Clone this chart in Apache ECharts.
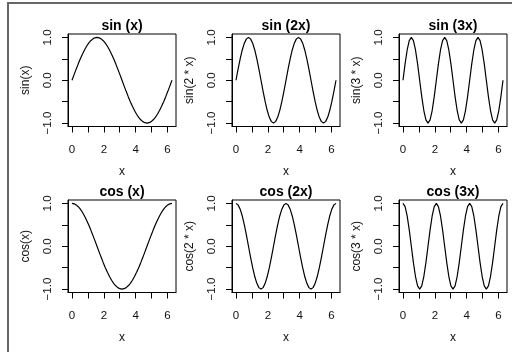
<!DOCTYPE html>
<html lang="en">

<head>
  <meta charset="UTF-8">
  <title>sin / cos</title>
  <style>
    body {
      margin: 0;
      background: #fff;
    }

    #main {
      position: absolute;
      left: 0;
      top: 0;
      width: 512px;
      height: 352px;
    }

    #frame {
      position: absolute;
      left: 7px;
      top: 2px;
      width: 520px;
      height: 360px;
      border-left: 2px solid #666;
      border-top: 2px solid #666;
      pointer-events: none;
    }
  </style>
</head>

<body>
  <div id="main"></div>
  <div id="frame"></div>
  <script src="https://cdn.jsdelivr.net/npm/echarts@6/dist/echarts.min.js"></script>
  <script>
    // x from 0 to 2*pi
    var xs = [0, 0.131, 0.262, 0.393, 0.524, 0.654, 0.785, 0.916, 1.047, 1.178, 1.309, 1.440, 1.571,
      1.702, 1.833, 1.963, 2.094, 2.225, 2.356, 2.487, 2.618, 2.749, 2.880, 3.011, 3.142,
      3.272, 3.403, 3.534, 3.665, 3.796, 3.927, 4.058, 4.189, 4.320, 4.451, 4.581, 4.712,
      4.843, 4.974, 5.105, 5.236, 5.367, 5.498, 5.629, 5.760, 5.890, 6.021, 6.152, 6.283];

    var sin1 = [0, .131, .259, .383, .5, .609, .707, .793, .866, .924, .966, .991, 1,
      .991, .966, .924, .866, .793, .707, .609, .5, .383, .259, .131, 0,
      -.131, -.259, -.383, -.5, -.609, -.707, -.793, -.866, -.924, -.966, -.991, -1,
      -.991, -.966, -.924, -.866, -.793, -.707, -.609, -.5, -.383, -.259, -.131, 0];
    var sin2 = [0, .259, .5, .707, .866, .966, 1, .966, .866, .707, .5, .259,
      0, -.259, -.5, -.707, -.866, -.966, -1, -.966, -.866, -.707, -.5, -.259,
      0, .259, .5, .707, .866, .966, 1, .966, .866, .707, .5, .259,
      0, -.259, -.5, -.707, -.866, -.966, -1, -.966, -.866, -.707, -.5, -.259, 0];
    var sin3 = [0, .383, .707, .924, 1, .924, .707, .383, 0, -.383, -.707, -.924, -1, -.924, -.707, -.383,
      0, .383, .707, .924, 1, .924, .707, .383, 0, -.383, -.707, -.924, -1, -.924, -.707, -.383,
      0, .383, .707, .924, 1, .924, .707, .383, 0, -.383, -.707, -.924, -1, -.924, -.707, -.383, 0];
    var cos1 = [1, .991, .966, .924, .866, .793, .707, .609, .5, .383, .259, .131, 0,
      -.131, -.259, -.383, -.5, -.609, -.707, -.793, -.866, -.924, -.966, -.991, -1,
      -.991, -.966, -.924, -.866, -.793, -.707, -.609, -.5, -.383, -.259, -.131, 0,
      .131, .259, .383, .5, .609, .707, .793, .866, .924, .966, .991, 1];
    var cos2 = [1, .966, .866, .707, .5, .259, 0, -.259, -.5, -.707, -.866, -.966,
      -1, -.966, -.866, -.707, -.5, -.259, 0, .259, .5, .707, .866, .966,
      1, .966, .866, .707, .5, .259, 0, -.259, -.5, -.707, -.866, -.966,
      -1, -.966, -.866, -.707, -.5, -.259, 0, .259, .5, .707, .866, .966, 1];
    var cos3 = [1, .924, .707, .383, 0, -.383, -.707, -.924, -1, -.924, -.707, -.383, 0, .383, .707, .924,
      1, .924, .707, .383, 0, -.383, -.707, -.924, -1, -.924, -.707, -.383, 0, .383, .707, .924,
      1, .924, .707, .383, 0, -.383, -.707, -.924, -1, -.924, -.707, -.383, 0, .383, .707, .924, 1];

    var titles = ['sin (x)', 'sin (2x)', 'sin (3x)', 'cos (x)', 'cos (2x)', 'cos (3x)'];
    var yNames = ['sin(x)', 'sin(2 * x)', 'sin(3 * x)', 'cos(x)', 'cos(2 * x)', 'cos(3 * x)'];
    var series_y = [sin1, sin2, sin3, cos1, cos2, cos3];
    var xTicks = [0, 1, 2, 3, 4, 5, 6];
    var xLabels = [0, 2, 4, 6];
    var yTicks = [-1, -0.5, 0, 0.5, 1];
    var yLabels = [-1, 0, 1];

    var myChart = echarts.init(document.getElementById('main'), null, { renderer: 'canvas' });

    var font = 'Liberation Sans';
    var colLeft = [68, 232, 399];
    var rowTop = [34, 200];
    var boxW = 108, boxH = 92.5;

    var grid = [], xAxis = [], yAxis = [], series = [], title = [];
    for (var i = 0; i < 6; i++) {
      var c = i % 3, r = Math.floor(i / 3);
      grid.push({
        left: colLeft[c], top: rowTop[r], width: boxW, height: boxH,
        show: true, borderColor: '#000', borderWidth: 1, backgroundColor: 'transparent'
      });
      title.push({
        text: titles[i],
        left: colLeft[c] + boxW / 2,
        top: rowTop[r] - 15,
        textAlign: 'center',
        padding: 0,
        textStyle: { fontFamily: font, fontSize: 14, fontWeight: 'bold', color: '#000' }
      });
      xAxis.push({
        type: 'value', gridIndex: i,
        min: -0.2513, max: 6.5345,
        name: 'x', nameLocation: 'middle', nameGap: 39,
        nameTextStyle: { fontFamily: font, fontSize: 12, color: '#111' },
        axisLine: { onZero: false, lineStyle: { color: '#000', width: 1 } },
        axisTick: { customValues: xTicks, length: 6, lineStyle: { color: '#000' } },
        axisLabel: { customValues: xLabels, margin: 17, fontFamily: font, fontSize: 11.5, color: '#111' },
        splitLine: { show: false }
      });
      yAxis.push({
        type: 'value', gridIndex: i,
        min: -1.08, max: 1.08,
        name: yNames[i], nameLocation: 'middle', nameGap: 36,
        nameTextStyle: { fontFamily: font, fontSize: 12, color: '#111' },
        axisLine: { onZero: false, lineStyle: { color: '#000', width: 1 } },
        axisTick: { customValues: yTicks, length: 6, lineStyle: { color: '#000' } },
        axisLabel: {
          customValues: yLabels, rotate: 90, margin: 14,
          fontFamily: font, fontSize: 11.5, color: '#111',
          formatter: function (v) { return (v < 0 ? '\u2212' : '') + Math.abs(v).toFixed(1); }
        },
        splitLine: { show: false }
      });
      var pts = [];
      for (var k = 0; k < xs.length; k++) pts.push([xs[k], series_y[i][k]]);
      series.push({
        type: 'line', xAxisIndex: i, yAxisIndex: i,
        data: pts, showSymbol: false, symbol: 'none',
        lineStyle: { color: '#000', width: 1.2 },
        animation: false
      });
    }

    myChart.setOption({
      animation: false,
      title: title,
      grid: grid,
      xAxis: xAxis,
      yAxis: yAxis,
      series: series
    });
  </script>
</body>

</html>
